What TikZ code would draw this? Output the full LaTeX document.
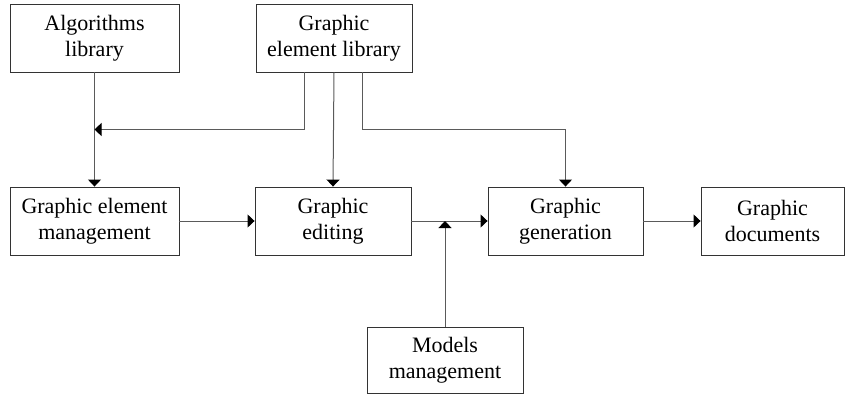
\documentclass[tikz,border=0pt]{standalone}
\usepackage{fontspec}
\setmainfont{Liberation Serif}
\usepackage{tikz}
\usetikzlibrary{arrows.meta,calc}
\definecolor{Line}{HTML}{5A5A5A}
\newcommand{\Block}[5]{%
  \node[blockbox,minimum width=#4pt] (#1) at (#2,#3) {#5};%
}

\begin{document}
\begin{tikzpicture}[x=1pt,y=-1pt,
  blockbox/.style={draw=black!80,line width=0.9pt,minimum height=68pt,inner sep=0pt,
    align=center,font=\rmfamily\fontsize{22}{26}\selectfont},
  arr/.style={draw=Line,line width=1pt,-{Triangle[length=7pt,width=13pt,color=black]}}]
\useasboundingbox (0,0) rectangle (845,394);
\Block{alg}{94.5}{38}{169}{Algorithms\\library}
\Block{gel}{334}{38}{156}{Graphic\\element library}
\Block{gem}{94.5}{221}{169}{Graphic element\\management}
\Block{edit}{333}{221}{156}{Graphic\\editing}
\Block{gen}{565.5}{221}{155}{Graphic\\generation}
\Block{docs}{772.5}{221}{143}{Graphic\\documents}
\node[blockbox,minimum width=156pt,minimum height=66pt] (models) at (445,360) {Models\\management};
\draw[arr] (alg.south) -- (gem.north);
\draw[arr] ([xshift=-30pt]gel.south) |- ($(alg.south)!0.5!(gem.north)$);
\draw[arr] (gel.south) -- (edit.north);
\draw[arr] ([xshift=28pt]gel.south) -- ++(0,57) -| (gen.north);
\draw[arr] (gem.east) -- (edit.west);
\draw[arr] (edit.east) -- (gen.west);
\draw[arr] (gen.east) -- (docs.west);
\coordinate (mj) at (models.north |- edit.east);
\draw[arr] (models.north) -- (mj);
\end{tikzpicture}
\end{document}
